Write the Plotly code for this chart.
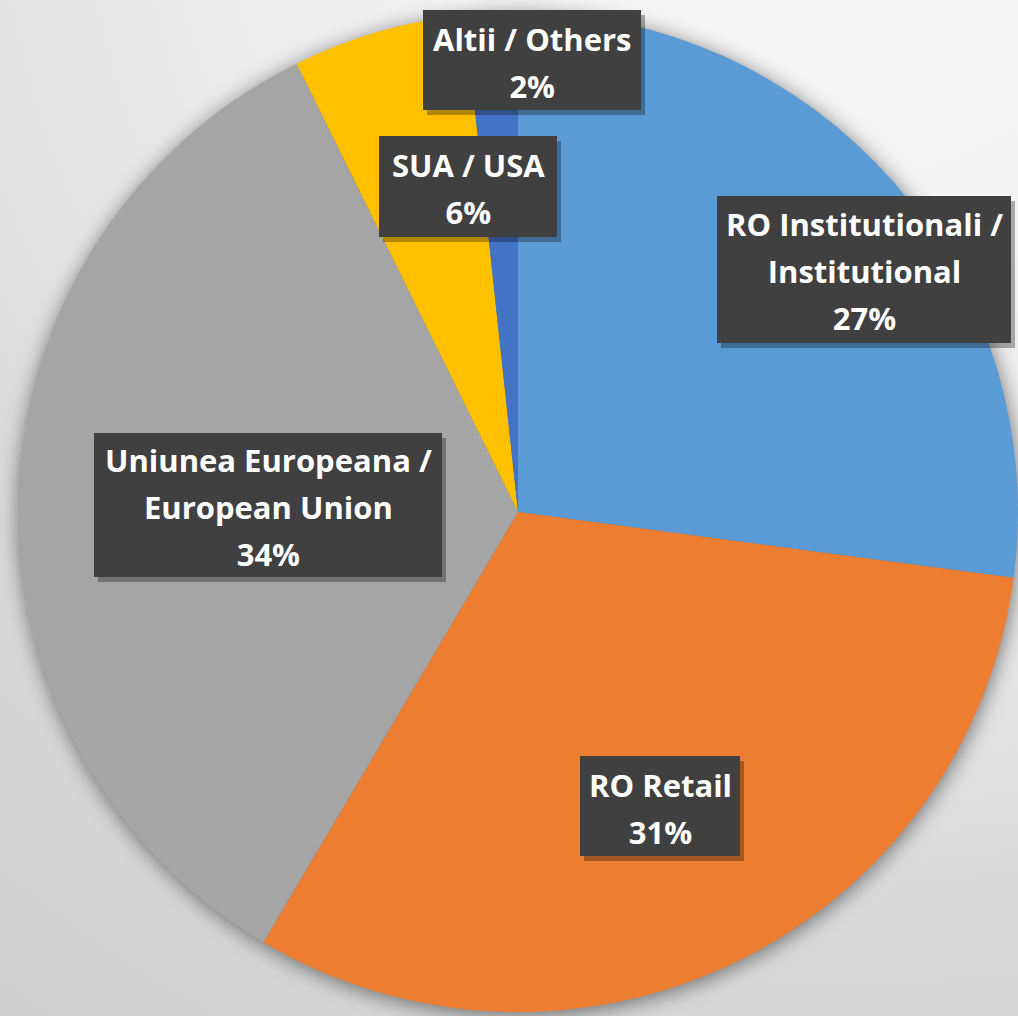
import base64
import plotly.graph_objects as go

# ---- data ----
labels = ["RO Institutionali /<br>Institutional", "RO Retail",
          "Uniunea Europeana /<br>European Union", "SUA / USA", "Altii / Others"]
values = [27.1, 31.4, 34.2, 5.6, 1.7]
colors = ["#5B9BD5", "#ED7D31", "#A5A5A5", "#FFC000", "#4472C4"]

# label box centres (px) and sizes (px)
box_cx = [864, 660, 268, 468, 532]
box_cy = [269, 806, 505, 186, 60]
box_w = [294, 160, 348, 178, 218]
box_h = [147, 100, 144, 101, 100]

W, H = 1018, 1016
# pie placement in px
px_x0, px_x1 = 18, 1018
px_y0, px_y1 = 12, 1012
cx = (px_x0 + px_x1) / 2
cy = (px_y0 + px_y1) / 2
r = min(px_x1 - px_x0, px_y1 - px_y0) / 2

svg = f'''<svg xmlns="http://www.w3.org/2000/svg" width="{W}" height="{H}" viewBox="0 0 {W} {H}">
<defs>
<radialGradient id="g" cx="850" cy="-150" r="1650" gradientUnits="userSpaceOnUse">
<stop offset="0" stop-color="#f7f7f7"/>
<stop offset="0.25" stop-color="#f2f2f2"/>
<stop offset="0.52" stop-color="#e4e4e4"/>
<stop offset="0.62" stop-color="#dadada"/>
<stop offset="0.78" stop-color="#d3d3d3"/>
<stop offset="1" stop-color="#c8c8c8"/>
</radialGradient>
<filter id="b" x="-10%" y="-10%" width="120%" height="120%"><feGaussianBlur stdDeviation="10"/></filter>
</defs>
<rect width="{W}" height="{H}" fill="url(#g)"/>
<circle cx="{cx + 1}" cy="{cy + 3}" r="{r}" fill="#000" fill-opacity="0.5" filter="url(#b)"/>
</svg>'''
bg_src = "data:image/svg+xml;base64," + base64.b64encode(svg.encode()).decode()

fig = go.Figure(go.Pie(
    labels=labels,
    values=values,
    marker=dict(colors=colors, line=dict(width=0)),
    sort=False,
    direction="clockwise",
    rotation=0,
    textinfo="none",
    hoverinfo="label+percent",
    showlegend=False,
    domain=dict(x=[px_x0 / W, px_x1 / W], y=[1 - px_y1 / H, 1 - px_y0 / H]),
))

total = sum(values)
annotations = []
# box shadows
for i in range(len(labels)):
    annotations.append(dict(
        x=box_cx[i] / W, y=1 - box_cy[i] / H, xref="paper", yref="paper",
        text=" ", showarrow=False, width=box_w[i], height=box_h[i],
        bgcolor="rgba(0,0,0,0.30)", borderpad=0, borderwidth=0,
        xshift=4, yshift=-5, xanchor="center", yanchor="middle",
    ))
# boxes
for i in range(len(labels)):
    annotations.append(dict(
        x=box_cx[i] / W, y=1 - box_cy[i] / H, xref="paper", yref="paper",
        text=" ", showarrow=False, width=box_w[i], height=box_h[i],
        bgcolor="#404040", borderpad=0, borderwidth=0,
        xanchor="center", yanchor="middle",
    ))
# texts
for i in range(len(labels)):
    pct = round(values[i] / total * 100)
    txt = f"<span style='font-size:31px'><b>{labels[i]}<br>{pct}%</b></span>"
    annotations.append(dict(
        x=box_cx[i] / W, y=1 - box_cy[i] / H, xref="paper", yref="paper",
        text=txt, showarrow=False, borderpad=0, borderwidth=0,
        font=dict(family="Open Sans", size=36, color="white"),
        align="center", xanchor="center", yanchor="middle", yshift=-2,
    ))

fig.update_layout(
    width=W, height=H,
    margin=dict(l=0, r=0, t=0, b=0),
    paper_bgcolor="#e0e0e0",
    images=[dict(source=bg_src, xref="paper", yref="paper", x=0, y=1,
                 sizex=1, sizey=1, sizing="stretch", layer="below",
                 xanchor="left", yanchor="top")],
    annotations=annotations,
)

fig.write_html("out.html", config={"displayModeBar": False},
               post_script="document.body.style.margin='0px';")
